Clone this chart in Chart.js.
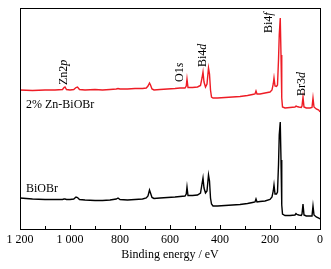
<!DOCTYPE html>
<html>
<head>
<meta charset="utf-8">
<script src="https://cdn.jsdelivr.net/npm/chart.js@4.4.1/dist/chart.umd.min.js"></script>
<style>
html,body{margin:0;padding:0;background:#fff;}
#wrap{width:331px;height:269px;position:relative;}
</style>
</head>
<body>
<div id="wrap"><canvas id="c" width="331" height="269"></canvas></div>
<script>
// Binding energy (eV)
const energy = [1200,1150,1100,1060,1030,1024,1020,1014,1000,985,976,970,962,940,900,870,840,815,808,800,770,740,710,695,688,682,678,672,664,640,610,580,560,540,535,532,528,510,490,478,472,468,464,458,452,446,442,438,434,428,410,380,350,320,290,270,260,256,252,240,220,200,192,187,184,180,174,170,166,163,159,156,153,150,140,120,100,96,92,85,75,72,68,64,55,40,32,28,24,15,5,0];
// Intensity (a.u., offset) for 2% Zn-BiOBr
const znBiOBr = [139,138.5,139,139,139.5,141.5,142,139.5,139,139.5,141.5,142,139.5,139,139.5,139,139.5,140,140.5,140,140,140.5,140.5,141,143,146,144,140,139,139.5,140,140.5,141,141,143,150,141.5,141.5,142,143.5,151,157,147,142,145,161,155,139,132,131,131,131.5,132,132.5,133.5,134.5,135,138,135,135,136,137,139,145,151,143,142.5,144,169,194,211,174,131,122,121,121.5,122,123,122.5,122,121.5,123,132,122,121,121,121.5,131,122,120,119,117];
// Intensity (a.u.) for BiOBr
const biOBr = [31,30,29.5,29.5,29.5,30,30,29.5,29.5,30,32,31.5,29.5,29,28.5,28.5,29,30,31,29.5,29,29.5,30,31,33,39,36,31.5,30.5,31,31.5,32,32.5,33,35,42,33.5,33.5,34,36,45,51,41,36,38,54,48,31,25,23,23,23.5,24,24.5,25.5,26.5,27,30,27,27.5,28,29.5,32,38,44,35,35,37,64,94,107,69,24,15,13.5,13.5,14,15.5,14.5,14,13.5,15,25,14,13,13,13,23,14,12,11,10];

const seriesNames = ["2% Zn-BiOBr", "BiOBr"];
const xTickLabels = {1200:"1 200",1000:"1 000",800:"800",600:"600",400:"400",200:"200",0:"0"};
// peak labels: [normal part, italic part, energy, intensity at text start]
const peakLabels = [
  ["Zn2","p",1024,144],
  ["O1","s",560,147],
  ["Bi4","d",468,162],
  ["Bi4","f",206,196],
  ["Br3","d",74,133]
];
const seriesLabelPos = [[1176,124],[1176,40]];

const FONT = '"Liberation Serif","Times New Roman",serif';

const decor = {
  id:'decor',
  afterDraw(chart){
    const ctx = chart.ctx, a = chart.chartArea;
    const xs = chart.scales.x, ys = chart.scales.y;
    ctx.save();
    // frame
    ctx.strokeStyle = '#000'; ctx.lineWidth = 1;
    ctx.strokeRect(Math.round(a.left)+0.5, Math.round(a.top)+0.5, Math.round(a.right-a.left), Math.round(a.bottom-a.top));
    // inward ticks
    xs.ticks.forEach(t=>{
      const x = Math.round(xs.getPixelForValue(t.value))+0.5;
      const len = (t.value % 200 === 0) ? 4 : 3;
      ctx.beginPath(); ctx.moveTo(x, a.bottom); ctx.lineTo(x, a.bottom-len); ctx.stroke();
    });
    ctx.fillStyle = '#000';
    // peak labels rotated
    peakLabels.forEach(([n,it,e,v])=>{
      const x = xs.getPixelForValue(e), y = ys.getPixelForValue(v);
      ctx.save();
      ctx.translate(x,y); ctx.rotate(-Math.PI/2);
      ctx.textAlign='left'; ctx.textBaseline='middle';
      ctx.font = '12px '+FONT;
      ctx.fillText(n,0,0);
      const w = ctx.measureText(n).width;
      ctx.font = 'italic 12px '+FONT;
      ctx.fillText(it,w,0);
      ctx.restore();
    });
    // series labels
    ctx.font = '12px '+FONT; ctx.textAlign='left'; ctx.textBaseline='middle';
    seriesNames.forEach((s,i)=>{
      ctx.fillText(s, xs.getPixelForValue(seriesLabelPos[i][0]), ys.getPixelForValue(seriesLabelPos[i][1]));
    });
    ctx.restore();
  }
};

new Chart(document.getElementById('c'), {
  type:'line',
  data:{
    datasets:[
      {label:seriesNames[0], data:energy.map((e,i)=>({x:e,y:znBiOBr[i]})), borderColor:'#ee1c25', borderWidth:1.4, pointRadius:0, tension:0},
      {label:seriesNames[1], data:energy.map((e,i)=>({x:e,y:biOBr[i]})), borderColor:'#000', borderWidth:1.4, pointRadius:0, tension:0}
    ]
  },
  options:{
    responsive:false, animation:false,
    layout:{padding:{left:20,right:11,top:8,bottom:0}},
    plugins:{legend:{display:false},tooltip:{enabled:false}},
    scales:{
      x:{type:'linear',reverse:true,min:0,max:1200,
        grid:{display:false,drawTicks:false},
        border:{display:false},
        ticks:{stepSize:100,autoSkip:false,maxRotation:0,padding:4,color:'#000',
          font:{family:FONT,size:12},
          callback:(v)=> (xTickLabels[v]!==undefined ? xTickLabels[v] : '')},
        title:{display:true,text:'Binding energy / eV',color:'#000',font:{family:FONT,size:12},padding:{top:2,bottom:7}},
        afterFit:(s)=>{s.height=40;}
      },
      y:{display:false,min:0,max:221}
    }
  },
  plugins:[decor]
});
</script>
</body>
</html>
